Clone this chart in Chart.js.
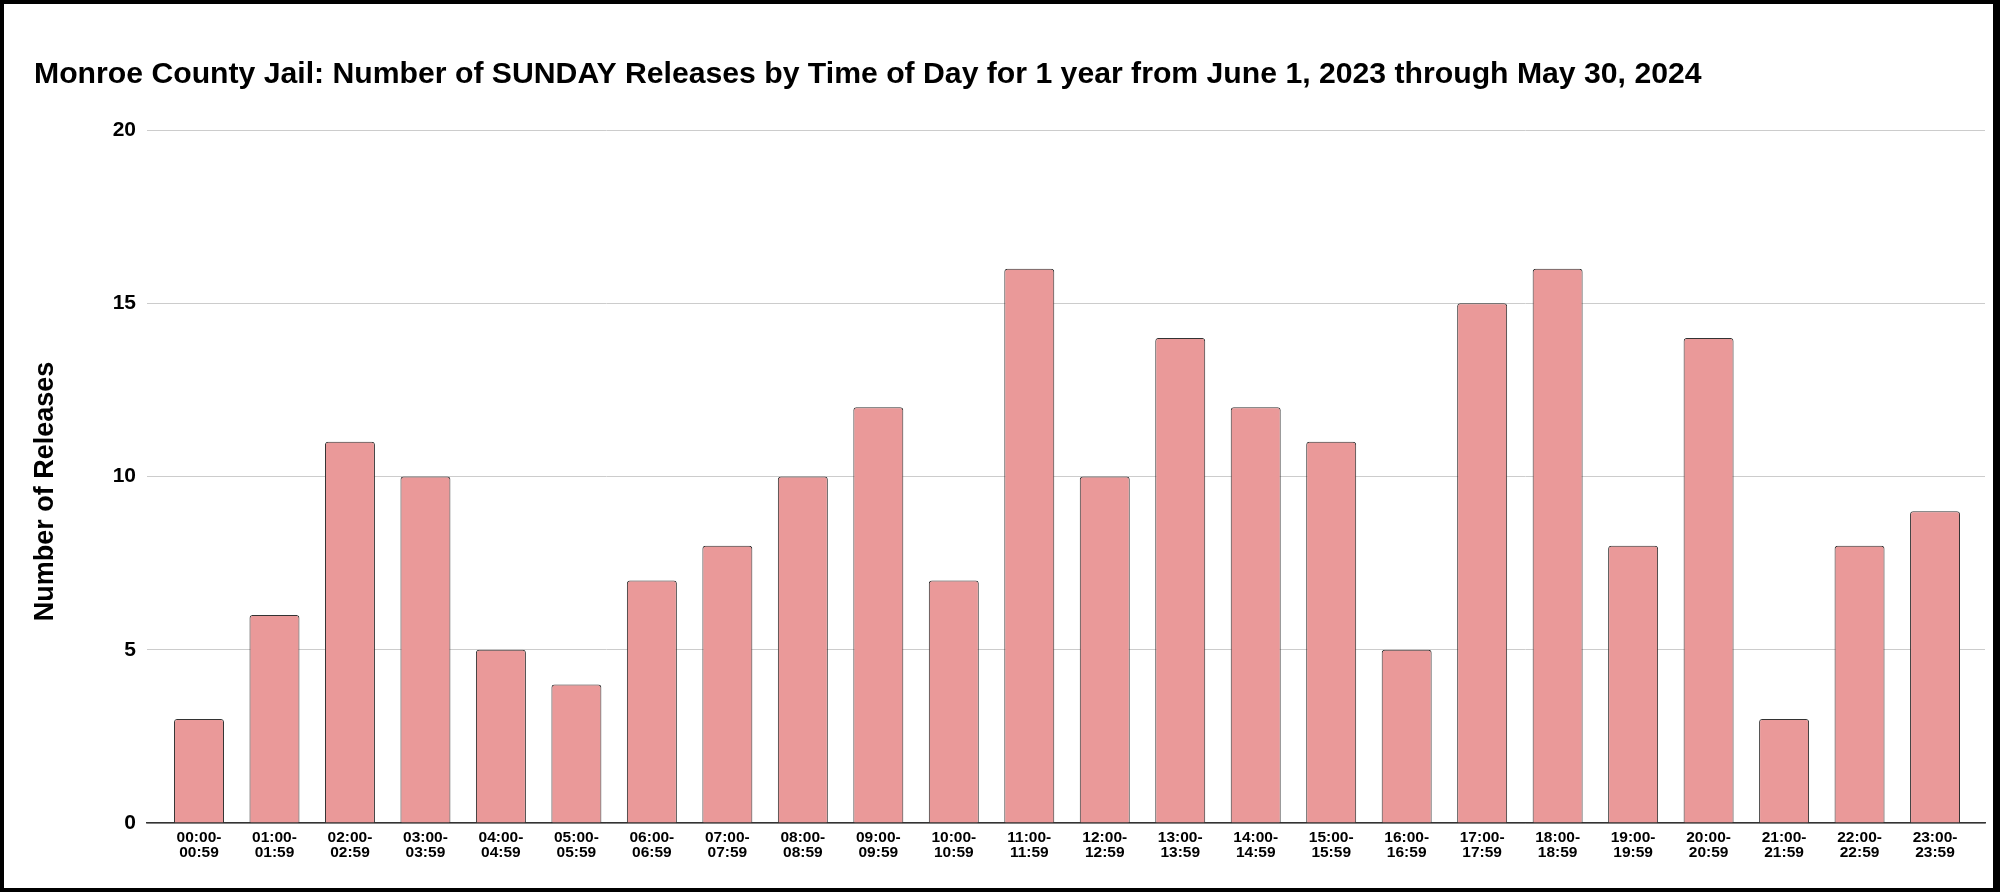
<!DOCTYPE html>
<html>
<head>
<meta charset="utf-8">
<script src="https://cdn.jsdelivr.net/npm/chart.js@4"></script>
<style>
  html, body { margin: 0; padding: 0; background: #fff; }
  #wrap { position: absolute; left: 0; top: 0; width: 2000px; height: 892px; }
  #frame { position: fixed; left: 0; top: 0; width: 2000px; height: 892px; box-sizing: border-box;
           border-style: solid; border-color: #000; border-width: 4px 7px 4px 4px; pointer-events: none; }
</style>
</head>
<body>
<div id="wrap"><canvas id="releaseChart"></canvas></div>
<div id="frame"></div>
<script>
// hourly buckets (two-line tick labels)
const hourLabels = [
  ["00:00-", "00:59"], ["01:00-", "01:59"], ["02:00-", "02:59"], ["03:00-", "03:59"],
  ["04:00-", "04:59"], ["05:00-", "05:59"], ["06:00-", "06:59"], ["07:00-", "07:59"],
  ["08:00-", "08:59"], ["09:00-", "09:59"], ["10:00-", "10:59"], ["11:00-", "11:59"],
  ["12:00-", "12:59"], ["13:00-", "13:59"], ["14:00-", "14:59"], ["15:00-", "15:59"],
  ["16:00-", "16:59"], ["17:00-", "17:59"], ["18:00-", "18:59"], ["19:00-", "19:59"],
  ["20:00-", "20:59"], ["21:00-", "21:59"], ["22:00-", "22:59"], ["23:00-", "23:59"]
];
const sundayReleases = [3, 6, 11, 10, 5, 4, 7, 8, 10, 12, 7, 16, 10, 14, 12, 11, 5, 15, 16, 8, 14, 3, 8, 9];
const yMin = 0;
const yMax = 20;
const yStep = 5;

const fontFamily = '"Liberation Sans", Arial, sans-serif';

const canvas = document.getElementById("releaseChart");
canvas.width = 2000;
canvas.height = 892;

// bars sit on a numeric x axis so the plot can keep some room at both ends
const barPoints = sundayReleases.map((v, i) => ({ x: i, y: v }));

new Chart(canvas.getContext("2d"), {
  type: "bar",
  data: {
    datasets: [{
      label: "Releases",
      data: barPoints,
      backgroundColor: "#ea9999",
      borderColor: "#333333",
      borderWidth: 1,
      borderRadius: 3,
      categoryPercentage: 1,
      barPercentage: 0.662
    }]
  },
  options: {
    responsive: false,
    animation: false,
    devicePixelRatio: 1,
    layout: { padding: { left: 34, right: 15, top: 0, bottom: 0 } },
    plugins: {
      legend: { display: false },
      tooltip: { enabled: false },
      title: {
        display: true,
        text: "Monroe County Jail: Number of SUNDAY Releases by Time of Day for 1 year from June 1, 2023 through May 30, 2024",
        align: "start",
        color: "#000",
        font: { family: fontFamily, size: 30.2, weight: "bold", lineHeight: 1.2 },
        padding: { top: 57, bottom: 36.8 }
      }
    },
    scales: {
      x: {
        type: "linear",
        min: -0.689,
        max: 23.662,
        bounds: "data",
        offset: false,
        grid: { display: false, drawTicks: false, offset: false },
        border: { display: true, color: "#333", width: 1.5 },
        afterBuildTicks: function (scale) {
          // one tick per hour bucket
          scale.ticks = hourLabels.map((_, i) => ({ value: i }));
        },
        ticks: {
          color: "#000",
          padding: 7,
          maxRotation: 0,
          autoSkip: false,
          font: { family: fontFamily, size: 15.5, weight: "bold", lineHeight: "15px" },
          callback: function (value) { return hourLabels[value]; }
        },
        afterFit: function (scale) { scale.height = 892 - 823; }
      },
      y: {
        min: yMin,
        max: yMax,
        grid: { color: "#cccccc", lineWidth: 1, drawTicks: false },
        border: { display: false },
        ticks: {
          stepSize: yStep,
          color: "#000",
          padding: 11,
          font: { family: fontFamily, size: 21, weight: "bold" }
        },
        title: {
          display: true,
          text: "Number of Releases    ",
          color: "#000",
          padding: { top: 0, bottom: 0 },
          font: { family: fontFamily, size: 27, weight: "bold", lineHeight: 0.85 }
        },
        afterFit: function (scale) { scale.width = 147 - 34; }
      }
    }
  }
});
</script>
</body>
</html>
